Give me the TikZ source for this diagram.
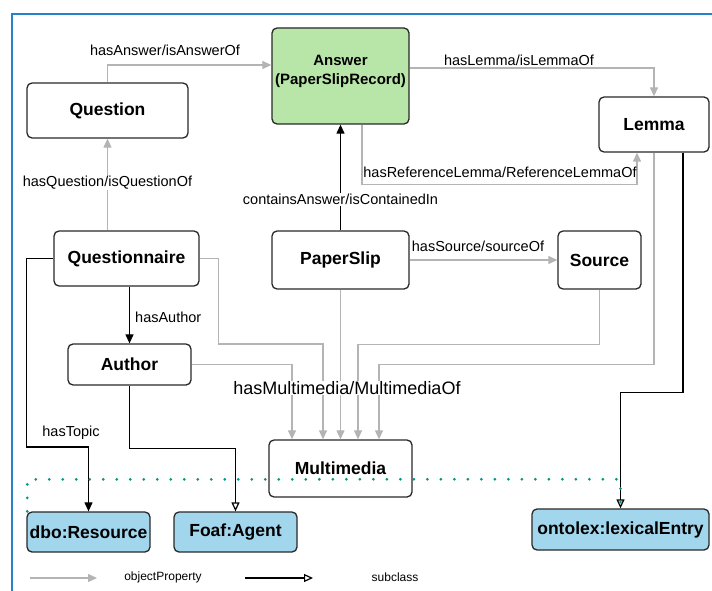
\documentclass[tikz,border=0pt]{standalone}
\usepackage{fontspec}
\setmainfont{Liberation Sans}
\usetikzlibrary{arrows.meta}
\definecolor{frameblue}{RGB}{38,128,202}
\definecolor{ansgreen}{RGB}{184,230,168}
\definecolor{extblue}{RGB}{162,214,236}
\definecolor{linegray}{RGB}{180,180,180}
\definecolor{dotteal}{RGB}{0,150,130}
\definecolor{boxline}{RGB}{40,40,40}
\begin{document}
\begin{tikzpicture}[x=1pt,y=-1pt,
  cls/.style={draw=boxline,line width=1.3pt,rounded corners=5pt,fill=white,inner sep=0pt,align=center,font=\bfseries\fontsize{17.5}{20}\selectfont},
  ext/.style={cls,fill=extblue},
  objp/.style={draw=linegray,line width=1.2pt,-{Triangle[width=8pt,length=9pt]}},
  hasrel/.style={draw=black,line width=1.2pt,-{Triangle[width=8pt,length=9pt]}},
  subc/.style={draw=black,line width=1.2pt,-{Triangle[open,width=8pt,length=9pt]}},
  elab/.style={font=\fontsize{14.5}{17}\selectfont,inner sep=1pt},
  leglab/.style={font=\fontsize{12}{14}\selectfont,inner sep=0pt},
  dotline/.style={draw=dotteal,line width=3pt,line cap=round,dash pattern=on 0pt off 13.5pt}
]
\useasboundingbox (0,0) rectangle (712,591);
% frame
\draw[frameblue,line width=2pt] (12,591) -- (12,14) -- (712,14);

% nodes
\node[cls,minimum width=161pt,minimum height=55pt] (Question) at (107.5,110.5) {Question};
\node[cls,fill=ansgreen,minimum width=137pt,minimum height=96pt,font=\bfseries\fontsize{15}{19}\selectfont] (Answer) at (340.5,76)
  {\raisebox{4.5pt}[\height][\depth]{\begin{tabular}{@{}c@{}}Answer\\(PaperSlipRecord)\end{tabular}}};
\node[cls,minimum width=110pt,minimum height=55pt] (Lemma) at (654,124.5) {Lemma};
\node[cls,minimum width=145pt,minimum height=55pt] (Questionnaire) at (126.5,258.5) {Questionnaire};
\node[cls,minimum width=137pt,minimum height=58pt] (PaperSlip) at (340.5,260) {PaperSlip};
\node[cls,minimum width=83pt,minimum height=58pt] (Source) at (599.5,260) {Source};
\node[cls,minimum width=123pt,minimum height=41pt] (Author) at (129.5,364.5) {Author};
\node[cls,minimum width=143pt,minimum height=57pt] (Multimedia) at (340.5,468.5) {Multimedia};
\node[ext,minimum width=123pt,minimum height=40pt] (dboRes) at (88.5,532) {dbo:Resource};
\node[ext,minimum width=123pt,minimum height=40pt] (Foaf) at (235.5,532) {Foaf:Agent};
\node[ext,minimum width=177pt,minimum height=41pt] (ontolex) at (620.5,529.5) {ontolex:lexicalEntry};

% object properties (gray)
\draw[objp] (Question.north) |- ([yshift=11pt]Answer.west);
\node[elab] (lHasAnswer) at (165,50) {hasAnswer/isAnswerOf};
\draw[objp] ([yshift=8pt]Answer.east) -| (Lemma.north);
\node[elab] (lHasLemma) at (519,60) {hasLemma/isLemmaOf};
\draw[objp] ([xshift=21.5pt]Answer.south) -- ++(0,60) -| ([xshift=-17pt]Lemma.south);
\node[elab] (lHasRef) at (500,172) {hasReferenceLemma/ReferenceLemmaOf};
\draw[objp] ([xshift=-19pt]Questionnaire.north) -- node[elab,pos=0.52,fill=white] (lHasQ) {hasQuestion/isQuestionOf} (Question.south);
\draw[objp] (PaperSlip.east) -- (Source.west);
\node[elab] (lHasSource) at (478,246) {hasSource/sourceOf};

% multimedia links
\draw[objp] (Author.east) -| ([xshift=-48.5pt]Multimedia.north);
\draw[objp] (Questionnaire.east) -- ++(19,0) -- ++(0,85.5) -| ([xshift=-17.5pt]Multimedia.north);
\draw[objp] (PaperSlip.south) -- (Multimedia.north);
\draw[objp] (Source.south) -- ++(0,55) -| ([xshift=17.5pt]Multimedia.north);
\draw[objp] (Lemma.south) -- ++(0,212) -| ([xshift=38.5pt]Multimedia.north);
\node[elab,font=\fontsize{18}{21}\selectfont,fill=white,inner sep=0pt] (lHasMM) at (347,388) {hasMultimedia/MultimediaOf};

% black relations
\draw[hasrel] (PaperSlip.north) -- node[elab,pos=0.29,fill=white] (lContains) {containsAnswer/isContainedIn} (Answer.south);
\draw[hasrel] (Author.north |- Questionnaire.south) -- (Author.north);
\node[elab,anchor=west] (lHasAuthor) at (134,317) {hasAuthor};
\draw[hasrel] (Questionnaire.west) -- ++(-27,0) -- ++(0,188.5) -| (dboRes.north);
\node[elab] (lHasTopic) at (71,433) {hasTopic};

% subclass
\draw[subc] (Author.south) -- ++(0,63) -| (Foaf.north);
\draw[subc] ([xshift=29pt]Lemma.south) -- ++(0,240) -| (ontolex.north);

% dotted group outline
\draw[dotline] ([xshift=1pt]dboRes.north west) -- ++(0,-32) -| (ontolex.north);

% legend
\coordinate (lgA) at (30,578);
\coordinate (lgB) at (97,578);
\coordinate (lgC) at (245,578);
\coordinate (lgD) at (313,578);
\draw[objp] (lgA) -- (lgB);
\node[leglab] (lgObj) at (163,577) {objectProperty};
\draw[subc] (lgC) -- (lgD);
\node[leglab] (lgSub) at (395,577) {subclass};
\end{tikzpicture}
\end{document}
